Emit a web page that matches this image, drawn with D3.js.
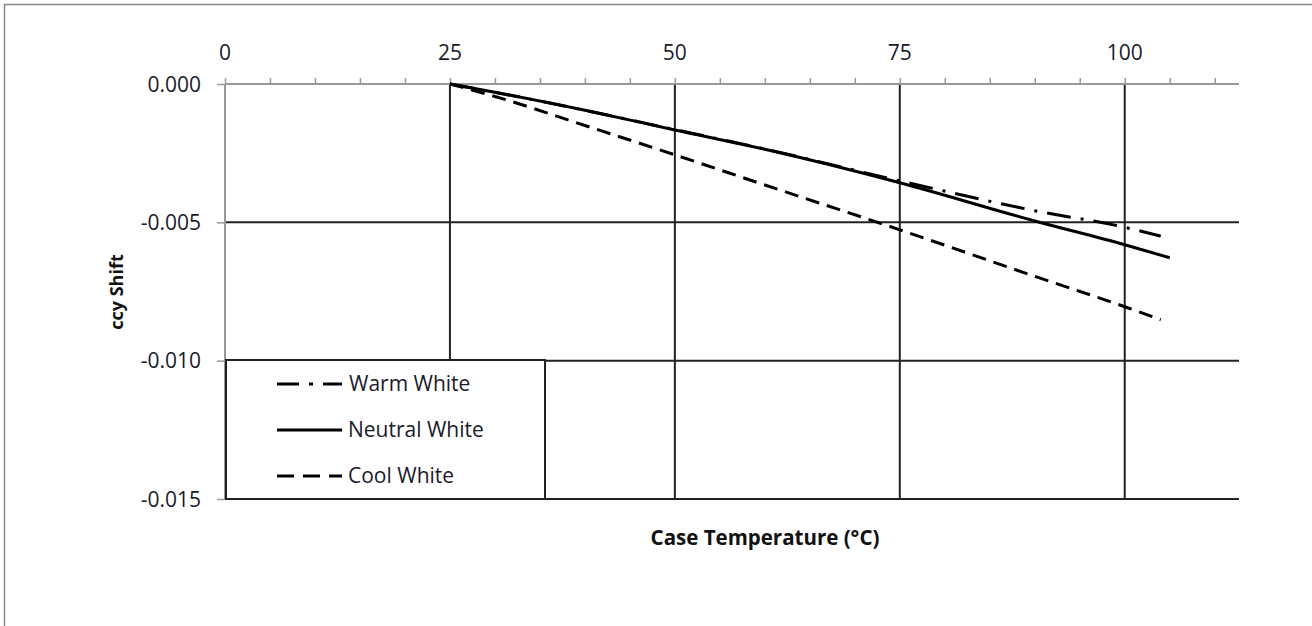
<!DOCTYPE html>
<html><head><meta charset="utf-8">
<script src="https://cdn.jsdelivr.net/npm/d3@7/dist/d3.min.js"></script>
<style>body{margin:0;background:#fff;}svg{display:block;font-family:"Open Sans","Noto Sans",sans-serif;}</style>
</head><body><svg id="c" width="1312" height="626"></svg>
<script>
const temps = [25, 30, 40, 50, 60, 75, 90, 100, 105];
const warmTemps = [25, 30, 40, 50, 60, 75, 90, 100, 104];
const warmWhite = [0, -0.00030, -0.00095, -0.00165, -0.00235, -0.00350, -0.00458, -0.00518, -0.00550];
const neutralWhite = [0, -0.00030, -0.00095, -0.00166, -0.00236, -0.00357, -0.00495, -0.00581, -0.00628];
const coolTemps = [25, 30, 40, 50, 60, 75, 90, 100, 104];
const coolWhite = [0, -0.00045, -0.00150, -0.00256, -0.00365, -0.00527, -0.00695, -0.00805, -0.00852];
const seriesNames = ["Warm White", "Neutral White", "Cool White"];
const xTickLabels = [0, 25, 50, 75, 100];
const xMinorTicks = d3.range(0, 111, 5);
const yTickLabels = [0, -0.005, -0.010, -0.015];

const svg = d3.select("#c");
const x = d3.scaleLinear().domain([0, 112.7]).range([225, 1239]);
const y = d3.scaleLinear().domain([-0.015, 0]).range([499, 84]);

// outer frame
svg.append("rect").attr("x", 4.5).attr("y", 4.5).attr("width", 1320).attr("height", 640)
  .attr("fill", "none").attr("stroke", "#888").attr("stroke-width", 1.5);

// horizontal gridlines
svg.append("g").selectAll("line").data(yTickLabels.slice(1)).join("line")
  .attr("x1", x(0)).attr("x2", x(112.7)).attr("y1", d => y(d)).attr("y2", d => y(d))
  .attr("stroke", "#222").attr("stroke-width", 2);
// vertical gridlines
svg.append("g").selectAll("line").data(xTickLabels.slice(1)).join("line")
  .attr("x1", d => x(d)).attr("x2", d => x(d)).attr("y1", y(0)).attr("y2", y(-0.015))
  .attr("stroke", "#222").attr("stroke-width", 2);

// top axis
const xAxis = d3.axisTop(x).tickValues(xMinorTicks).tickSize(6).tickFormat("");
const gx = svg.append("g").attr("transform", `translate(0,${y(0)})`).call(xAxis);
gx.select(".domain").attr("stroke", "#999").attr("stroke-width", 2).attr("d", `M${x(0)},0H${x(112.7)}`);
gx.selectAll(".tick line").attr("stroke", "#999").attr("stroke-width", 1.5);
svg.append("g").selectAll("text").data(xTickLabels).join("text")
  .attr("x", d => x(d)).attr("y", 60).attr("text-anchor", "middle")
  .attr("font-size", 21).attr("fill", "#1a1a2a").text(d => d);

// left axis
const yAxis = d3.axisLeft(y).tickValues(yTickLabels).tickSize(8).tickFormat(d3.format(".3f"));
const gy = svg.append("g").attr("transform", `translate(${x(0)},0)`).call(yAxis);
gy.select(".domain").attr("stroke", "#999").attr("stroke-width", 2).attr("d", `M0,${y(0)}V${y(-0.015)}`);
gy.selectAll(".tick line").attr("stroke", "#999").attr("stroke-width", 1.5);
gy.selectAll(".tick text").attr("font-size", 21).attr("fill", "#1a1a2a").attr("x", -24).attr("dy", "0.34em")
  .attr("font-family", "'Open Sans','Noto Sans',sans-serif").text(d => d === 0 ? "0.000" : d3.format(".3f")(d).replace("−", "-"));

// series
const dashes = ["24,10,3,10", null, "14,8"];
const data = [
  warmTemps.map((t, i) => [t, warmWhite[i]]),
  temps.map((t, i) => [t, neutralWhite[i]]),
  coolTemps.map((t, i) => [t, coolWhite[i]])
];
const line = d3.line().x(d => x(d[0])).y(d => y(d[1])).curve(d3.curveMonotoneX);
data.forEach((s, i) => {
  svg.append("path").attr("d", line(s)).attr("fill", "none").attr("stroke", "#000")
    .attr("stroke-width", 3).attr("stroke-dasharray", dashes[i]);
});

// legend
const lg = svg.append("g");
lg.append("rect").attr("x", 226).attr("y", 360).attr("width", 319).attr("height", 139)
  .attr("fill", "#fff").attr("stroke", "#222").attr("stroke-width", 2);
const rows = [384, 430, 476];
const legendDash = ["22,10,4,10", null, "17,9"];
seriesNames.forEach((n, i) => {
  lg.append("line").attr("x1", 277).attr("x2", 342).attr("y1", rows[i]).attr("y2", rows[i])
    .attr("stroke", "#000").attr("stroke-width", 3).attr("stroke-dasharray", legendDash[i]);
  lg.append("text").attr("x", i === 0 ? 349 : 348).attr("y", rows[i] + 7).attr("font-size", 21)
    .attr("fill", "#1a1a2a").text(n);
});

// axis titles
svg.append("text").attr("x", 765).attr("y", 545).attr("text-anchor", "middle")
  .attr("font-size", 20.5).attr("font-weight", "bold").attr("fill", "#111").text("Case Temperature (°C)");
svg.append("text").attr("transform", "translate(123,292) rotate(-90)").attr("text-anchor", "middle")
  .attr("font-size", 18).attr("font-weight", "bold").attr("fill", "#111").text("ccy Shift");
</script></body></html>
